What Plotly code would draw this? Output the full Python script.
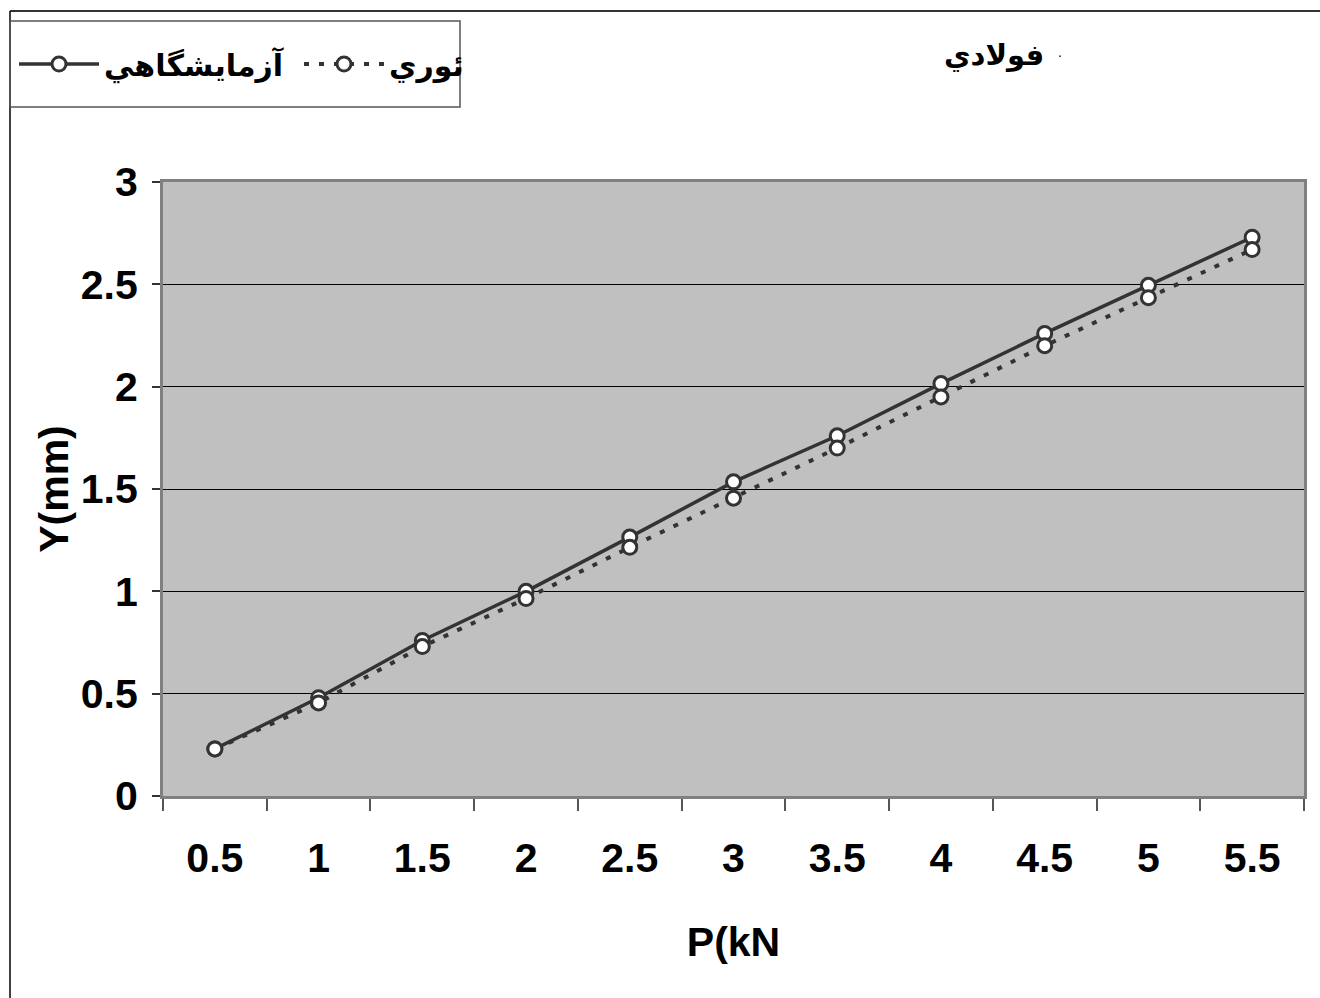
import plotly.graph_objects as go

# ---- data ----
P_labels = ["0.5", "1", "1.5", "2", "2.5", "3", "3.5", "4", "4.5", "5", "5.5"]
y_lab = [0.23, 0.48, 0.76, 1.00, 1.265, 1.535, 1.76, 2.015, 2.26, 2.495, 2.73]
y_theory = [0.23, 0.455, 0.73, 0.965, 1.215, 1.455, 1.70, 1.95, 2.20, 2.435, 2.67]
name_lab = "آزمايشگاهي"
name_theory = "ئوري"
title_text = "فولادي"
x_title = "P(kN"
y_title = "Y(mm)"
y_ticks = [0, 0.5, 1, 1.5, 2, 2.5, 3]

W, H = 1320, 998
L, R, T, B = 163, 1304, 182, 796

def px_x(px):
    return (px - L) / (R - L)

def px_y(py):
    return (B - py) / (B - T)

FONT = "Liberation Sans, Arial, DejaVu Sans, sans-serif"
AR_FONT = "DejaVu Sans, Liberation Sans, Arial, sans-serif"
DARK = "#333333"

fig = go.Figure()
fig.add_trace(go.Scatter(
    x=P_labels, y=y_lab, name=name_lab, mode="lines+markers",
    line=dict(color=DARK, width=3.5),
    marker=dict(symbol="circle", size=14, color="white", line=dict(color=DARK, width=3)),
))
fig.add_trace(go.Scatter(
    x=P_labels, y=y_theory, name=name_theory, mode="lines+markers",
    line=dict(color=DARK, width=4, dash="5px,10px"),
    marker=dict(symbol="circle", size=14, color="white", line=dict(color=DARK, width=3)),
))

shapes = [
    # outer frame (top and left)
    dict(type="line", xref="paper", yref="paper", x0=px_x(10), x1=px_x(1320), y0=px_y(11), y1=px_y(11),
         line=dict(color=DARK, width=2)),
    dict(type="line", xref="paper", yref="paper", x0=px_x(10), x1=px_x(10), y0=px_y(11), y1=px_y(998),
         line=dict(color="black", width=1.5)),
    # legend box
    dict(type="rect", xref="paper", yref="paper", x0=px_x(10), x1=px_x(460), y0=px_y(21), y1=px_y(107),
         line=dict(color="#555555", width=1.5), fillcolor="rgba(0,0,0,0)"),
]

fig.update_layout(
    width=W, height=H,
    margin=dict(l=L, r=W - R, t=T, b=H - B, autoexpand=False),
    paper_bgcolor="white",
    plot_bgcolor="#C0C0C0",
    font=dict(family=FONT, color="black"),
    showlegend=True,
    legend=dict(
        orientation="h", xref="container", yref="container",
        x=14 / W, y=1 - 64 / H, xanchor="left", yanchor="middle",
        bgcolor="rgba(0,0,0,0)", borderwidth=0,
        font=dict(family=AR_FONT, size=30, color="black", weight="bold"),
        itemwidth=80, entrywidth=190, traceorder="normal",
    ),
    shapes=shapes,
    annotations=[
        dict(text=title_text, xref="paper", yref="paper", x=px_x(994), y=px_y(55),
             showarrow=False, xanchor="center", yanchor="middle",
             font=dict(family=AR_FONT, size=29, color="black", weight="bold")),
        dict(text=".", xref="paper", yref="paper", x=px_x(1060), y=px_y(52),
             showarrow=False, xanchor="center", yanchor="middle",
             font=dict(family=FONT, size=14, color="black")),
    ],
)

fig.update_xaxes(
    type="category", tickson="boundaries", range=[-0.5, 10.5], autorange=False,
    ticks="outside", ticklen=12, tickwidth=1.5, tickcolor="#555555",
    tickfont=dict(family=FONT, size=41, color="black", weight="bold"),
    ticklabelstandoff=24,
    showgrid=False, zeroline=False,
    showline=True, linecolor="#808080", linewidth=3, mirror=True,
    title=dict(text=x_title, font=dict(family=FONT, size=41, color="black", weight="bold"), standoff=48),
)
fig.update_yaxes(
    range=[0, 3], autorange=False, tickvals=y_ticks, ticktext=[f"{v:g}" for v in y_ticks],
    ticks="outside", ticklen=8, tickwidth=1.5, tickcolor="#333333",
    tickfont=dict(family=FONT, size=41, color="black", weight="bold"),
    ticklabelstandoff=6,
    showgrid=True, gridcolor="black", gridwidth=1.2,
    zeroline=False,
    showline=True, linecolor="#808080", linewidth=3, mirror=True,
    title=dict(text=y_title, font=dict(family=FONT, size=41, color="black", weight="bold"), standoff=0),
)

fig.write_html("out.html")
